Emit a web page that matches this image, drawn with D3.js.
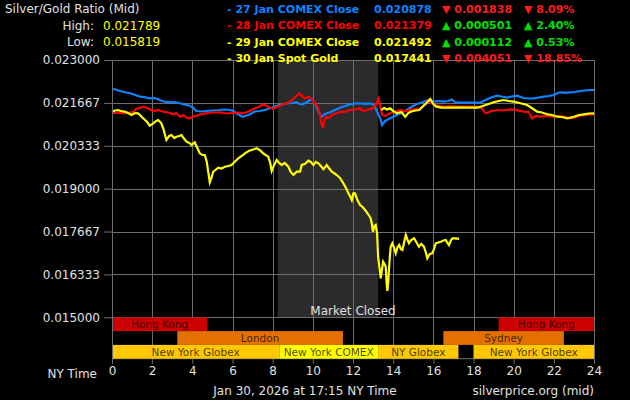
<!DOCTYPE html>
<html><head><meta charset="utf-8">
<script src="https://cdn.jsdelivr.net/npm/d3@7"></script>
<style>
html,body{margin:0;padding:0;background:#000;}
svg{display:block;}
text{font-family:"DejaVu Sans",Verdana,sans-serif;}
</style></head>
<body>
<script>
// ---------- DATA ----------
const yTickValues = [0.015, 0.016333, 0.017667, 0.019, 0.020333, 0.021667, 0.023];
const xTickValues = [0,2,4,6,8,10,12,14,16,18,20,22,24];

const blueHours = [0,0.2,0.38,0.6,0.9,1.1,1.38,1.6,1.88,2.1,2.38,2.6,2.88,3.1,3.38,3.6,3.88,4.05,4.2,4.45,4.7,5.0,5.37,5.6,5.87,6.05,6.2,6.5,6.7,6.87,7.1,7.36,7.6,7.87,8.05,8.2,8.45,8.7,8.95,9.2,9.35,9.5,9.7,9.95,10.1,10.2,10.3,10.44,10.6,10.86,11.1,11.36,11.6,11.86,12.1,12.35,12.6,12.85,13.05,13.2,13.35,13.45,13.6,13.85,14.18,14.4,14.68,14.9,15.18,15.5,15.75,16.0,16.25,16.5,16.75,16.93,17.1,17.5,18.0,18.3,18.5,18.84,19.17,19.4,19.67,19.9,20.17,20.5,20.75,21.0,21.25,21.5,21.75,22.0,22.2,22.33,22.6,22.83,23.05,23.3,23.55,23.8,24];
const blueValues = [0.022098,0.022083,0.022036,0.022005,0.021965,0.021927,0.021859,0.021850,0.021809,0.021819,0.021756,0.021710,0.021685,0.021694,0.021654,0.021617,0.021579,0.021508,0.021414,0.021399,0.021414,0.021430,0.021445,0.021461,0.021445,0.021414,0.021343,0.021237,0.021274,0.021312,0.021399,0.021414,0.021445,0.021498,0.021539,0.021579,0.021617,0.021654,0.021663,0.021685,0.021632,0.021623,0.021694,0.021787,0.021663,0.021517,0.021352,0.021237,0.021321,0.021374,0.021445,0.021517,0.021570,0.021623,0.021648,0.021654,0.021639,0.021654,0.021601,0.021393,0.021197,0.020979,0.021104,0.021187,0.021290,0.021352,0.021445,0.021539,0.021632,0.021694,0.021756,0.021704,0.021725,0.021704,0.021725,0.021772,0.021672,0.021672,0.021672,0.021672,0.021725,0.021828,0.021890,0.021865,0.021828,0.021865,0.021890,0.021819,0.021803,0.021809,0.021834,0.021859,0.021881,0.021912,0.021974,0.021996,0.021980,0.021996,0.022005,0.022036,0.022052,0.022067,0.022067];

const redHours = [0,0.3,0.55,0.8,1.05,1.2,1.38,1.55,1.72,1.9,2.05,2.3,2.55,2.8,3.04,3.2,3.38,3.55,3.71,3.88,4.05,4.2,4.45,4.7,5.0,5.37,5.7,6.04,6.3,6.53,6.8,7.03,7.3,7.53,7.8,8.03,8.2,8.36,8.55,8.7,8.9,9.03,9.2,9.33,9.45,9.6,9.8,9.95,10.1,10.22,10.32,10.42,10.5,10.58,10.66,10.8,10.94,11.15,11.36,11.6,11.86,12.1,12.35,12.5,12.69,12.85,13.0,13.15,13.27,13.32,13.45,13.6,13.85,14.1,14.35,14.6,14.87,15.1,15.37,15.6,15.77,15.9,16.1,16.3,16.5,16.8,17.18,17.5,17.8,18.17,18.4,18.6,18.67,18.9,19.17,19.5,19.84,20.1,20.5,20.75,20.92,21.1,21.33,21.6,22.0,22.25,22.5,22.83,23.05,23.3,23.6,24];
const redValues = [0.021343,0.021368,0.021343,0.021358,0.021374,0.021477,0.021517,0.021539,0.021517,0.021461,0.021414,0.021445,0.021393,0.021368,0.021312,0.021352,0.021237,0.021290,0.021206,0.021187,0.021243,0.021268,0.021321,0.021343,0.021368,0.021374,0.021337,0.021352,0.021368,0.021343,0.021399,0.021477,0.021539,0.021623,0.021539,0.021477,0.021539,0.021579,0.021632,0.021654,0.021725,0.021787,0.021896,0.021965,0.021881,0.021809,0.021850,0.021787,0.021654,0.021570,0.021393,0.021072,0.020877,0.021135,0.021237,0.021197,0.021290,0.021337,0.021393,0.021383,0.021445,0.021461,0.021498,0.021414,0.021445,0.021477,0.021498,0.021632,0.021809,0.021663,0.021290,0.021259,0.021343,0.021383,0.021445,0.021414,0.021445,0.021477,0.021498,0.021632,0.021756,0.021663,0.021601,0.021570,0.021548,0.021570,0.021548,0.021548,0.021548,0.021548,0.021508,0.021343,0.021352,0.021414,0.021445,0.021430,0.021467,0.021445,0.021393,0.021383,0.021187,0.021259,0.021237,0.021259,0.021237,0.021259,0.021237,0.021187,0.021212,0.021268,0.021290,0.021312];

const jan29Hours = [13.4,13.55,13.7,13.85,14.0,14.18,14.4,14.6,14.75,14.87,15.1,15.3,15.5,15.65,15.85,16.0,16.15,16.4,16.7,17.0,17.5,18.0,18.2,18.5,18.75,19.0,19.25,19.5,19.75,20.0,20.34,20.67,20.9,21.17,21.4,21.67,21.9,22.17,22.4,22.67,23.0,23.25,23.5,23.75,24];
const jan29Values = [0.021445,0.021508,0.021461,0.021498,0.021414,0.021343,0.021383,0.021237,0.021352,0.021393,0.021430,0.021445,0.021570,0.021654,0.021787,0.021632,0.021548,0.021517,0.021523,0.021517,0.021517,0.021517,0.021517,0.021579,0.021632,0.021685,0.021725,0.021756,0.021725,0.021704,0.021654,0.021601,0.021508,0.021393,0.021368,0.021312,0.021290,0.021237,0.021228,0.021187,0.021237,0.021290,0.021312,0.021337,0.021343];

const jan30Hours = [0,0.15,0.3,0.45,0.63,0.8,0.97,1.15,1.3,1.55,1.75,1.88,2.05,2.2,2.3,2.45,2.55,2.71,2.85,2.96,3.1,3.21,3.35,3.46,3.6,3.71,3.85,3.96,4.12,4.25,4.37,4.5,4.62,4.72,4.79,4.87,4.95,5.04,5.15,5.29,5.45,5.62,5.8,5.95,6.1,6.29,6.45,6.62,6.8,6.95,7.1,7.2,7.35,7.53,7.65,7.78,7.88,7.95,8.05,8.2,8.32,8.45,8.6,8.78,8.9,9.03,9.2,9.36,9.45,9.6,9.78,9.9,10.03,10.15,10.28,10.4,10.53,10.69,10.8,10.94,11.05,11.19,11.35,11.52,11.65,11.77,11.85,11.94,12.02,12.1,12.22,12.35,12.48,12.6,12.75,12.88,12.95,12.99,13.07,13.13,13.2,13.25,13.3,13.38,13.44,13.5,13.57,13.63,13.67,13.71,13.75,13.79,13.84,13.88,13.96,14.05,14.13,14.22,14.3,14.38,14.46,14.55,14.63,14.72,14.79,14.9,15.04,15.15,15.28,15.4,15.53,15.62,15.7,15.82,15.95,16.05,16.12,16.25,16.37,16.5,16.62,16.7,16.78,16.88,16.95,17.1,17.28];
const jan30Values = [0.021393,0.021430,0.021445,0.021414,0.021393,0.021352,0.021290,0.021352,0.021343,0.021187,0.021072,0.020957,0.021032,0.021104,0.021135,0.021041,0.020877,0.020513,0.020638,0.020668,0.020575,0.020615,0.020638,0.020668,0.020544,0.020460,0.020420,0.020357,0.020441,0.020264,0.020099,0.020046,0.020046,0.019829,0.019527,0.019198,0.019332,0.019527,0.019580,0.019652,0.019627,0.019683,0.019704,0.019736,0.019829,0.019944,0.020015,0.020099,0.020171,0.020202,0.020233,0.020255,0.020202,0.020099,0.020046,0.019994,0.019798,0.019549,0.019704,0.019891,0.019798,0.019736,0.019798,0.019683,0.019518,0.019425,0.019527,0.019527,0.019736,0.019767,0.019869,0.019829,0.019736,0.019829,0.019789,0.019704,0.019602,0.019736,0.019642,0.019527,0.019487,0.019425,0.019332,0.019167,0.019021,0.018856,0.018772,0.018647,0.018856,0.018856,0.018647,0.018492,0.018430,0.018337,0.018212,0.018078,0.017870,0.017662,0.017839,0.017870,0.017612,0.016884,0.016627,0.016213,0.016471,0.016729,0.016658,0.016574,0.016098,0.015819,0.016067,0.016471,0.016937,0.017196,0.017301,0.017154,0.016990,0.017186,0.017248,0.017124,0.017093,0.017342,0.017559,0.017404,0.017301,0.017404,0.017457,0.017342,0.017196,0.017280,0.017196,0.017031,0.016835,0.016969,0.016990,0.017154,0.017301,0.017326,0.017351,0.017388,0.017404,0.017311,0.017248,0.017404,0.017457,0.017451,0.017441];

const legendLabels = ["- 27 Jan COMEX Close","- 28 Jan COMEX Close","- 29 Jan COMEX Close","- 30 Jan Spot Gold"];
const legendValues = ["0.020878","0.021379","0.021492","0.017441"];
const legendChanges = ["0.001838","0.000501","0.000112","0.004051"];
const legendPercents = ["8.09%","2.40%","0.53%","18.85%"];
const legendUp = [false,true,true,false];
const highValue = "0.021789";
const lowValue = "0.015819";

const closedStart = 8.25, closedEnd = 13.25, closedLabelHour = 12;
const sessionNames = ["Hong Kong","Hong Kong","London","Sydney","New York Globex","New York COMEX","NY Globex","New York Globex"];
const sessionStart = [0,19.25,3.25,16.5,0,8.33,13.25,18];
const sessionEnd = [4.75,24,11.5,22.5,8.33,13.25,17.25,24];
const sessionRow = [0,0,1,1,2,2,2,2];

// ---------- STYLE ----------
const W = 630, H = 400;
const seriesColors = ["#0a84ff","#ff0000","#ffff00","#ffff00"];
const sessionColor = {"Hong Kong":"#cc0000","London":"#e37000","Sydney":"#e37000","New York Globex":"#ffc800","NY Globex":"#ffc800","New York COMEX":"#ffff00"};
const gridColor = "#6e6e6e", textColor = "#e0e0e0";

const svg = d3.select("body").append("svg").attr("width",W).attr("height",H)
  .style("background","#000");

const x = d3.scaleLinear().domain([0,24]).range([112,594]);
const y = d3.scaleLinear().domain([0.015,0.023]).range([317.3,60]);
const bandTop = 317.3, rowH = 13.8, plotBottom = bandTop + 3*rowH;

// market closed band
svg.append("rect").attr("x",x(closedStart)).attr("y",y(0.023))
  .attr("width",x(closedEnd)-x(closedStart)).attr("height",bandTop-y(0.023))
  .attr("fill","#2b2b2b");

// horizontal gridlines
svg.append("g").selectAll("line").data(yTickValues).join("line")
  .attr("x1",x(0)).attr("x2",x(24)).attr("y1",d=>Math.round(y(d))+0.5).attr("y2",d=>Math.round(y(d))+0.5)
  .attr("stroke",gridColor).attr("stroke-width",1);
// vertical gridlines
svg.append("g").selectAll("line").data(xTickValues).join("line")
  .attr("x1",d=>Math.round(x(d))+0.5).attr("x2",d=>Math.round(x(d))+0.5)
  .attr("y1",y(0.023)).attr("y2",plotBottom)
  .attr("stroke",gridColor).attr("stroke-width",1);
svg.append("line").attr("x1",x(0)).attr("x2",x(24)).attr("y1",plotBottom).attr("y2",plotBottom)
  .attr("stroke",gridColor);

// Market Closed text
svg.append("text").attr("x",x(closedLabelHour)).attr("y",315)
  .attr("text-anchor","middle").attr("font-size",12).attr("fill",textColor).text("Market Closed");

// session bands
const sg = svg.append("g");
sessionNames.forEach((n,i)=>{
  const x0 = x(sessionStart[i]), x1 = x(sessionEnd[i]);
  const yy = bandTop + sessionRow[i]*rowH;
  sg.append("rect").attr("x",x0).attr("y",yy).attr("width",x1-x0).attr("height",rowH)
    .attr("fill",sessionColor[n]);
  sg.append("text").attr("x",(x0+x1)/2).attr("y",yy+rowH/2+3.7).attr("text-anchor","middle")
    .attr("font-family","'Liberation Sans',Arial,sans-serif").attr("font-size",10.5)
    .attr("fill","#000").attr("fill-opacity",0.72).text(n);
});

// lines
const line = d3.line().x(d=>x(d[0])).y(d=>y(d[1]));
const series = [[blueHours,blueValues],[redHours,redValues],[jan29Hours,jan29Values],[jan30Hours,jan30Values]];
series.forEach((s,i)=>{
  const pts = s[0].map((h,j)=>[h,s[1][j]]);
  svg.append("path").datum(pts).attr("d",line).attr("fill","none")
    .attr("stroke",seriesColors[i]).attr("stroke-width",2.2).attr("stroke-linejoin","miter");
});

// y axis
const yAxis = svg.append("g").attr("transform",`translate(${x(0)},0)`)
  .call(d3.axisLeft(y).tickValues(yTickValues).tickFormat(d3.format(".6f")).tickSize(8).tickPadding(4));
yAxis.select(".domain").remove();
yAxis.selectAll("line").attr("stroke",gridColor);
yAxis.selectAll("text").attr("fill",textColor).attr("font-size",12).attr("font-family","'DejaVu Sans',sans-serif");
svg.append("line").attr("x1",x(0)+0.5).attr("x2",x(0)+0.5).attr("y1",y(0.023)).attr("y2",plotBottom).attr("stroke",gridColor);

// x axis
const xAxis = svg.append("g").attr("transform",`translate(0,${plotBottom})`)
  .call(d3.axisBottom(x).tickValues(xTickValues).tickFormat(d3.format("d")).tickSize(5).tickPadding(3));
xAxis.select(".domain").remove();
xAxis.selectAll("line").attr("stroke",gridColor);
xAxis.selectAll("text").attr("fill",textColor).attr("font-size",12).attr("font-family","'DejaVu Sans',sans-serif");

svg.append("text").attr("x",97).attr("y",378).attr("text-anchor","end").attr("font-size",12).attr("fill",textColor).text("NY Time");
svg.append("text").attr("x",305).attr("y",395).attr("text-anchor","middle").attr("font-size",12).attr("fill",textColor).text("Jan 30, 2026 at 17:15 NY Time");
svg.append("text").attr("x",594).attr("y",395).attr("text-anchor","end").attr("font-size",12).attr("fill",textColor).text("silverprice.org (mid)");

// header left
svg.append("text").attr("x",5).attr("y",13).attr("font-size",12).attr("fill",textColor).text("Silver/Gold Ratio (Mid)");
svg.append("text").attr("x",94).attr("y",29.5).attr("text-anchor","end").attr("font-size",12).attr("fill",textColor).text("High:");
svg.append("text").attr("x",103).attr("y",29.5).attr("font-size",12).attr("fill","#ffff00").text(highValue);
svg.append("text").attr("x",94).attr("y",46).attr("text-anchor","end").attr("font-size",12).attr("fill",textColor).text("Low:");
svg.append("text").attr("x",103).attr("y",46).attr("font-size",12).attr("fill","#ffff00").text(lowValue);

// legend
const rowY = [13,29.3,45.6,61.5];
legendLabels.forEach((lab,i)=>{
  const g = svg.append("g").attr("font-size",11).attr("font-weight","bold");
  g.append("text").attr("x",227).attr("y",rowY[i]).attr("fill",seriesColors[i]).text(lab);
  g.append("text").attr("x",374).attr("y",rowY[i]).attr("fill",seriesColors[i]).text(legendValues[i]);
  const c = legendUp[i] ? "#00e000" : "#ff1a1a";
  const arrow = legendUp[i] ? "▲" : "▼";
  g.append("text").attr("x",442).attr("y",rowY[i]).attr("fill",c).text(arrow+" "+legendChanges[i]);
  g.append("text").attr("x",524).attr("y",rowY[i]).attr("fill",c).text(arrow+" "+legendPercents[i]);
});
</script>
</body></html>
